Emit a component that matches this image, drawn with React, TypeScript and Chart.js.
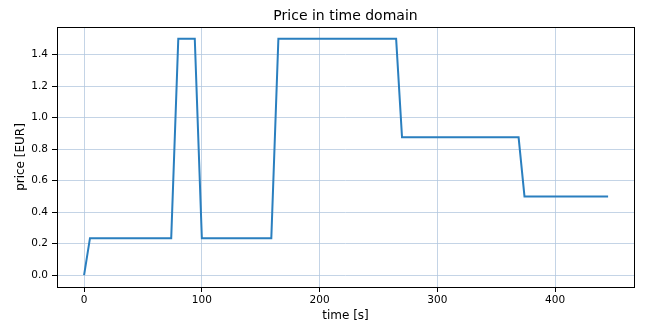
import React, { useEffect, useRef } from "react";
import { Chart, registerables } from "chart.js";

Chart.register(...registerables);

// Price schedule: time stamps in seconds and the price at each stamp
const timeSeconds = [0, 5, 74, 80, 94, 100, 159, 165, 265, 270, 369, 374, 445];
const priceEur = [0, 0.235, 0.235, 1.5, 1.5, 0.235, 0.235, 1.5, 1.5, 0.875, 0.875, 0.5, 0.5];

const xTicks = [0, 100, 200, 300, 400];
const yTicks = [0, 0.2, 0.4, 0.6, 0.8, 1.0, 1.2, 1.4];

const chartTitle = "Price in time domain";
const xLabel = "time [s]";
const yLabel = "price [EUR]";

const FONT = "'DejaVu Sans', sans-serif";
const GRID = "rgba(176, 198, 222, 0.75)";

// Draws the title above the plot and a full frame around the plot area
const framePlugin = {
  id: "frame",
  afterDraw(chart: Chart) {
    const { ctx, chartArea } = chart;
    ctx.save();
    ctx.strokeStyle = "#000";
    ctx.lineWidth = 1;
    ctx.strokeRect(
      Math.round(chartArea.left) + 0.5,
      Math.round(chartArea.top) + 0.5,
      Math.round(chartArea.right - chartArea.left),
      Math.round(chartArea.bottom - chartArea.top)
    );
    ctx.fillStyle = "#000";
    ctx.font = `14px ${FONT}`;
    ctx.textAlign = "center";
    ctx.textBaseline = "middle";
    ctx.fillText(chartTitle, (chartArea.left + chartArea.right) / 2, 16);
    ctx.restore();
  },
};

export default function App() {
  const canvasRef = useRef<HTMLCanvasElement | null>(null);

  useEffect(() => {
    if (!canvasRef.current) return;
    const points = timeSeconds.map((t, i) => ({ x: t, y: priceEur[i] }));
    const chart = new Chart(canvasRef.current, {
      type: "line",
      data: {
        datasets: [
          {
            data: points,
            borderColor: "#2a7fbf",
            borderWidth: 2,
            pointRadius: 0,
            fill: false,
            tension: 0,
          },
        ],
      },
      options: {
        animation: false,
        responsive: true,
        maintainAspectRatio: false,
        devicePixelRatio: 1,
        layout: { padding: { top: 27, right: 18, bottom: 0, left: 0 } },
        plugins: {
          legend: { display: false },
          tooltip: { enabled: false },
          title: { display: false },
        },
        scales: {
          x: {
            type: "linear",
            min: -23,
            max: 467,
            afterBuildTicks: (scale: any) => {
              scale.ticks = xTicks.map((v) => ({ value: v }));
            },
            afterFit: (scale: any) => {
              scale.height = 36;
            },
            ticks: {
              color: "#000",
              font: { family: FONT, size: 10.5 },
              padding: 2,
              maxRotation: 0,
              callback: (v: any) => String(v),
            },
            grid: {
              color: GRID,
              lineWidth: 1,
              tickColor: "#000",
              tickLength: 5,
            },
            border: { display: false },
            title: {
              display: true,
              text: xLabel,
              color: "#000",
              font: { family: FONT, size: 12 },
              padding: { top: 0, bottom: 0 },
            },
          },
          y: {
            type: "linear",
            min: -0.075,
            max: 1.575,
            afterBuildTicks: (scale: any) => {
              scale.ticks = yTicks.map((v) => ({ value: v }));
            },
            afterFit: (scale: any) => {
              scale.width = 57;
            },
            ticks: {
              color: "#000",
              font: { family: FONT, size: 10.5 },
              padding: 4,
              callback: (v: any) => Number(v).toFixed(1),
            },
            grid: {
              color: GRID,
              lineWidth: 1,
              tickColor: "#000",
              tickLength: 5,
            },
            border: { display: false },
            title: {
              display: true,
              text: yLabel,
              color: "#000",
              font: { family: FONT, size: 12 },
              padding: { top: 14, bottom: 0 },
            },
          },
        },
      },
      plugins: [framePlugin],
    });
    return () => chart.destroy();
  }, []);

  return (
    <div
      style={{
        position: "fixed",
        left: 0,
        top: 0,
        width: 652,
        height: 323,
        background: "#fff",
      }}
    >
      <canvas ref={canvasRef} />
    </div>
  );
}
